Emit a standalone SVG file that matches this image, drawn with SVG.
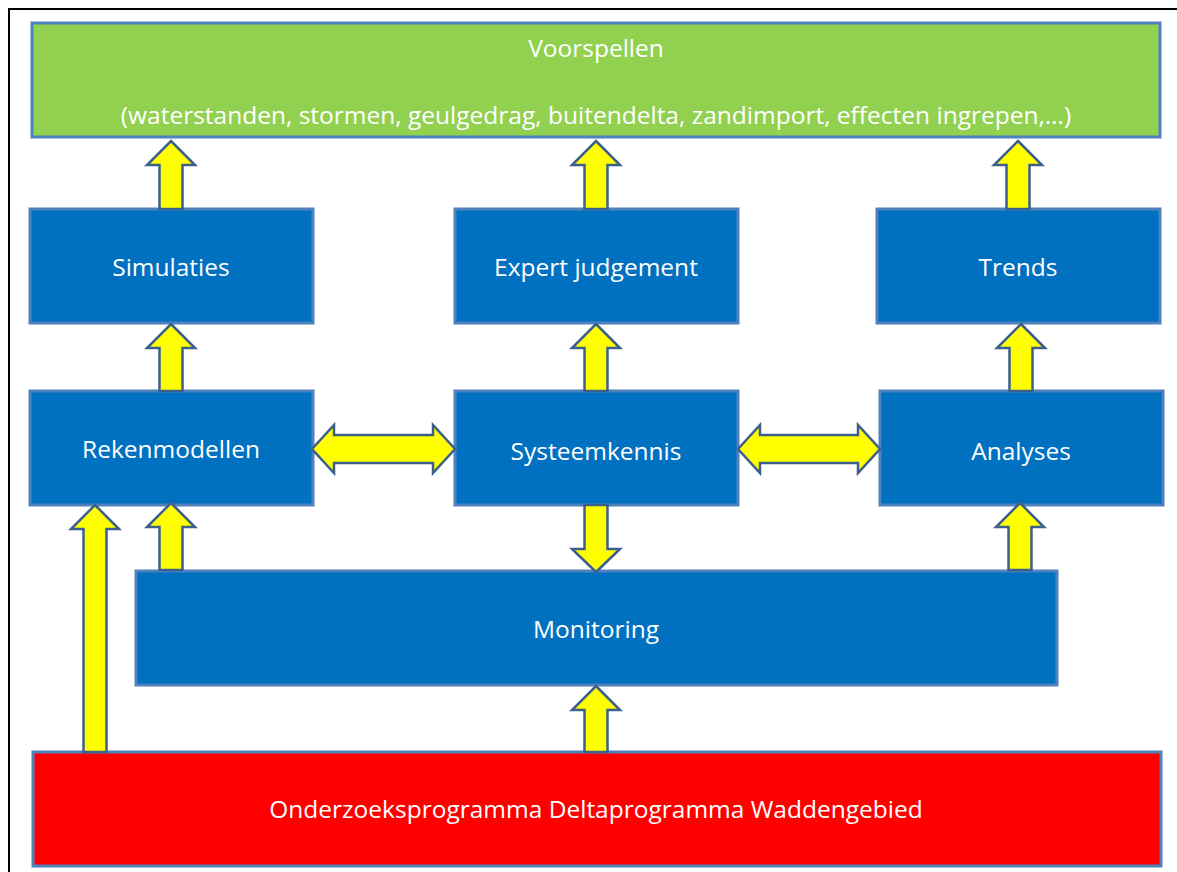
<svg xmlns="http://www.w3.org/2000/svg" width="1177" height="872" viewBox="0 0 1177 872">
<defs>
<style>
.box{stroke:#4f81bd;stroke-width:3}
.blue{fill:#0070c0}
.green{fill:#92d050}
.red{fill:#ff0000}
.arr{fill:#ffff00;stroke:#3c5f8e;stroke-width:2.5;stroke-linejoin:miter}
text{font-family:"Open Sans","Liberation Sans",sans-serif;font-size:24.5px;fill:#ffffff;text-anchor:middle;dominant-baseline:central}
</style>
</defs>
<rect width="1177" height="872" fill="#ffffff"/>
<path d="M9,872 L9,9 L1177,9" fill="none" stroke="#000000" stroke-width="2"/>
<g id="voorspellen">
<rect class="box green" x="32" y="23" width="1128" height="114"/>
<text x="596" y="47">Voorspellen</text>
<text x="596" y="114">(waterstanden, stormen, geulgedrag, buitendelta, zandimport, effecten ingrepen,…)</text>
</g>
<g id="simulaties">
<rect class="box blue" x="30" y="209" width="283" height="114"/>
<text x="171" y="266">Simulaties</text>
</g>
<g id="expert">
<rect class="box blue" x="455" y="209" width="283" height="114"/>
<text x="596" y="266">Expert judgement</text>
</g>
<g id="trends">
<rect class="box blue" x="877" y="209" width="283" height="114"/>
<text x="1018" y="266">Trends</text>
</g>
<g id="rekenmodellen">
<rect class="box blue" x="30" y="391" width="283" height="114"/>
<text x="171" y="448">Rekenmodellen</text>
</g>
<g id="systeemkennis">
<rect class="box blue" x="455" y="391" width="283" height="114"/>
<text x="596" y="450">Systeemkennis</text>
</g>
<g id="analyses">
<rect class="box blue" x="880" y="391" width="283" height="114"/>
<text x="1021" y="450">Analyses</text>
</g>
<g id="monitoring">
<rect class="box blue" x="136" y="571" width="921" height="114"/>
<text x="596" y="628">Monitoring</text>
</g>
<g id="onderzoeksprogramma">
<rect class="box red" x="33" y="752" width="1128" height="114"/>
<text x="596" y="808">Onderzoeksprogramma Deltaprogramma Waddengebied</text>
</g>
<g id="connectors">
<path class="arr" d="M171,141 L195,165 L182.5,165 L182.5,209 L159.5,209 L159.5,165 L147,165 Z"/>
<path class="arr" d="M596,141 L620,165 L607.5,165 L607.5,209 L584.5,209 L584.5,165 L572,165 Z"/>
<path class="arr" d="M1018,141 L1042,165 L1029.5,165 L1029.5,209 L1006.5,209 L1006.5,165 L994,165 Z"/>
<path class="arr" d="M171,324 L195,348 L182.5,348 L182.5,391 L159.5,391 L159.5,348 L147,348 Z"/>
<path class="arr" d="M596,324 L620,348 L607.5,348 L607.5,391 L584.5,391 L584.5,348 L572,348 Z"/>
<path class="arr" d="M1021,324 L1045,348 L1032.5,348 L1032.5,391 L1009.5,391 L1009.5,348 L997,348 Z"/>
<path class="arr" d="M312,449 L334,425 L334,435 L433,435 L433,425 L455,449 L433,473 L433,463 L334,463 L334,473 Z"/>
<path class="arr" d="M738,449 L760,425 L760,435 L858,435 L858,425 L880,449 L858,473 L858,463 L760,463 L760,473 Z"/>
<path class="arr" d="M596,572 L620,549 L607.5,549 L607.5,505 L584.5,505 L584.5,549 L572,549 Z"/>
<path class="arr" d="M171,503 L195,527 L182.5,527 L182.5,570 L159.5,570 L159.5,527 L147,527 Z"/>
<path class="arr" d="M1020,503 L1044,527 L1031.5,527 L1031.5,570 L1008.5,570 L1008.5,527 L996,527 Z"/>
<path class="arr" d="M95,505 L119,529 L106.5,529 L106.5,752 L83.5,752 L83.5,529 L71,529 Z"/>
<path class="arr" d="M596,686 L620,710 L607.5,710 L607.5,752 L584.5,752 L584.5,710 L572,710 Z"/>
</g>
</svg>
